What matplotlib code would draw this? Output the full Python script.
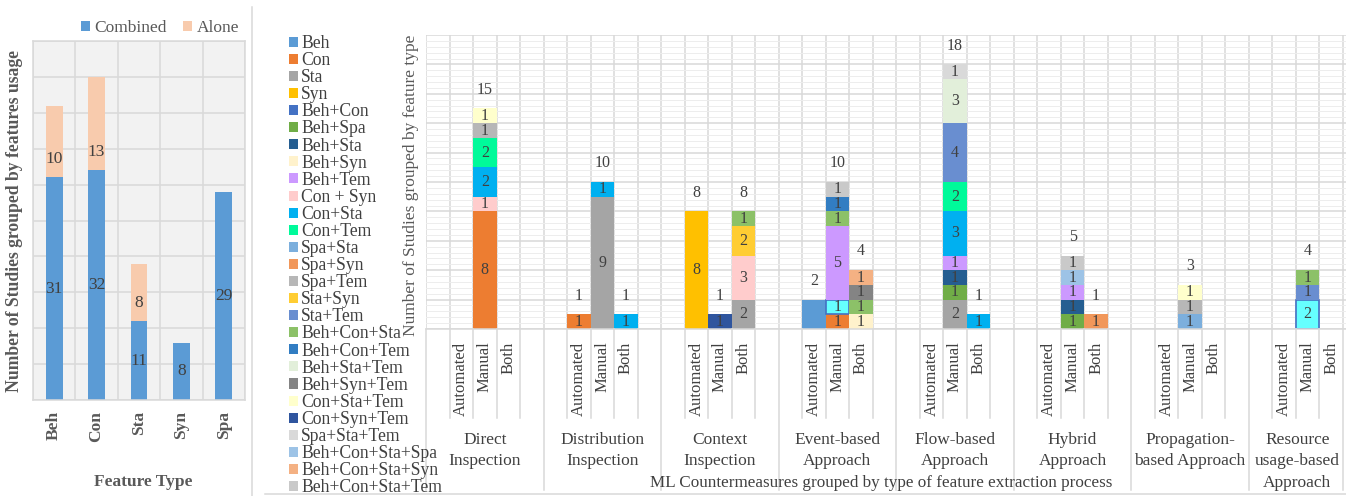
import numpy as np
import matplotlib.pyplot as plt
from matplotlib.patches import Patch
from matplotlib.lines import Line2D
from matplotlib.transforms import blended_transform_factory

plt.rcParams["font.family"] = ["Liberation Serif", "DejaVu Serif"]

# ---- left chart data ----
feature_types = ["Beh", "Con", "Sta", "Syn", "Spa"]
combined = [31, 32, 11, 8, 29]
alone = [10, 13, 8, 0, 0]

# ---- right chart data ----
groups = ["Direct\nInspection", "Distribution\nInspection", "Context\nInspection",
          "Event-based\nApproach", "Flow-based\nApproach", "Hybrid\nApproach",
          "Propagation-\nbased Approach", "Resource\nusage-based\nApproach"]
methods = ["Automated", "Manual", "Both"]

series_names = ["Beh", "Con", "Sta", "Syn", "Beh+Con", "Beh+Spa", "Beh+Sta", "Beh+Syn",
                "Beh+Tem", "Con + Syn", "Con+Sta", "Con+Tem", "Spa+Sta", "Spa+Syn",
                "Spa+Tem", "Sta+Syn", "Sta+Tem", "Beh+Con+Sta", "Beh+Con+Tem",
                "Beh+Sta+Tem", "Beh+Syn+Tem", "Con+Sta+Tem", "Con+Syn+Tem",
                "Spa+Sta+Tem", "Beh+Con+Sta+Spa", "Beh+Con+Sta+Syn", "Beh+Con+Sta+Tem"]
series_colors = ["#5B9BD5", "#ED7D31", "#A5A5A5", "#FFC000", "#4472C4", "#70AD47",
                 "#255E91", "#FFF2CC", "#CC99FF", "#FFCCCC", "#00B0F0", "#00FA9A",
                 "#7CAFDD", "#F1975A", "#B7B7B7", "#FFCD33", "#698ED0", "#8CC168",
                 "#327DC2", "#E2EFDA", "#848484", "#FFFFCC", "#2F559E", "#D9D9D9",
                 "#9DC3E6", "#F4B183", "#C9C9C9"]

# one value per bar: 8 groups x (Automated, Manual, Both)
values = {
    #                  Direct   Distrib  Context  Event    Flow     Hybrid   Propag   Resource
    "Beh":             [0, 0, 0, 0, 0, 0, 0, 0, 0, 2, 0, 0, 0, 0, 0, 0, 0, 0, 0, 0, 0, 0, 0, 0],
    "Con":             [0, 8, 0, 1, 0, 0, 0, 0, 0, 0, 1, 0, 0, 0, 0, 0, 0, 0, 0, 0, 0, 0, 0, 0],
    "Sta":             [0, 0, 0, 0, 9, 0, 0, 0, 2, 0, 0, 0, 0, 2, 0, 0, 0, 0, 0, 0, 0, 0, 0, 0],
    "Syn":             [0, 0, 0, 0, 0, 0, 8, 0, 0, 0, 0, 0, 0, 0, 0, 0, 0, 0, 0, 0, 0, 0, 0, 0],
    "Beh+Con":         [0, 0, 0, 0, 0, 0, 0, 0, 0, 0, 1, 0, 0, 0, 0, 0, 0, 0, 0, 0, 0, 0, 2, 0],
    "Beh+Spa":         [0, 0, 0, 0, 0, 0, 0, 0, 0, 0, 0, 0, 0, 1, 0, 0, 1, 0, 0, 0, 0, 0, 0, 0],
    "Beh+Sta":         [0, 0, 0, 0, 0, 0, 0, 0, 0, 0, 0, 0, 0, 1, 0, 0, 1, 0, 0, 0, 0, 0, 0, 0],
    "Beh+Syn":         [0, 0, 0, 0, 0, 0, 0, 0, 0, 0, 0, 1, 0, 0, 0, 0, 0, 0, 0, 0, 0, 0, 0, 0],
    "Beh+Tem":         [0, 0, 0, 0, 0, 0, 0, 0, 0, 0, 5, 0, 0, 1, 0, 0, 1, 0, 0, 0, 0, 0, 0, 0],
    "Con + Syn":       [0, 1, 0, 0, 0, 0, 0, 0, 3, 0, 0, 0, 0, 0, 0, 0, 0, 0, 0, 0, 0, 0, 0, 0],
    "Con+Sta":         [0, 2, 0, 0, 1, 1, 0, 0, 0, 0, 0, 0, 0, 3, 1, 0, 0, 0, 0, 0, 0, 0, 0, 0],
    "Con+Tem":         [0, 2, 0, 0, 0, 0, 0, 0, 0, 0, 0, 0, 0, 2, 0, 0, 0, 0, 0, 0, 0, 0, 0, 0],
    "Spa+Sta":         [0, 0, 0, 0, 0, 0, 0, 0, 0, 0, 0, 0, 0, 0, 0, 0, 0, 0, 0, 1, 0, 0, 0, 0],
    "Spa+Syn":         [0, 0, 0, 0, 0, 0, 0, 0, 0, 0, 0, 0, 0, 0, 0, 0, 0, 1, 0, 0, 0, 0, 0, 0],
    "Spa+Tem":         [0, 1, 0, 0, 0, 0, 0, 0, 0, 0, 0, 0, 0, 0, 0, 0, 0, 0, 0, 1, 0, 0, 0, 0],
    "Sta+Syn":         [0, 0, 0, 0, 0, 0, 0, 0, 2, 0, 0, 0, 0, 0, 0, 0, 0, 0, 0, 0, 0, 0, 0, 0],
    "Sta+Tem":         [0, 0, 0, 0, 0, 0, 0, 0, 0, 0, 0, 0, 0, 4, 0, 0, 0, 0, 0, 0, 0, 0, 1, 0],
    "Beh+Con+Sta":     [0, 0, 0, 0, 0, 0, 0, 0, 1, 0, 1, 1, 0, 0, 0, 0, 0, 0, 0, 0, 0, 0, 1, 0],
    "Beh+Con+Tem":     [0, 0, 0, 0, 0, 0, 0, 0, 0, 0, 1, 0, 0, 0, 0, 0, 0, 0, 0, 0, 0, 0, 0, 0],
    "Beh+Sta+Tem":     [0, 0, 0, 0, 0, 0, 0, 0, 0, 0, 0, 0, 0, 3, 0, 0, 0, 0, 0, 0, 0, 0, 0, 0],
    "Beh+Syn+Tem":     [0, 0, 0, 0, 0, 0, 0, 0, 0, 0, 0, 1, 0, 0, 0, 0, 0, 0, 0, 0, 0, 0, 0, 0],
    "Con+Sta+Tem":     [0, 1, 0, 0, 0, 0, 0, 0, 0, 0, 0, 0, 0, 0, 0, 0, 0, 0, 0, 1, 0, 0, 0, 0],
    "Con+Syn+Tem":     [0, 0, 0, 0, 0, 0, 0, 1, 0, 0, 0, 0, 0, 0, 0, 0, 0, 0, 0, 0, 0, 0, 0, 0],
    "Spa+Sta+Tem":     [0, 0, 0, 0, 0, 0, 0, 0, 0, 0, 0, 0, 0, 1, 0, 0, 0, 0, 0, 0, 0, 0, 0, 0],
    "Beh+Con+Sta+Spa": [0, 0, 0, 0, 0, 0, 0, 0, 0, 0, 0, 0, 0, 0, 0, 0, 1, 0, 0, 0, 0, 0, 0, 0],
    "Beh+Con+Sta+Syn": [0, 0, 0, 0, 0, 0, 0, 0, 0, 0, 0, 1, 0, 0, 0, 0, 0, 0, 0, 0, 0, 0, 0, 0],
    "Beh+Con+Sta+Tem": [0, 0, 0, 0, 0, 0, 0, 0, 0, 0, 1, 0, 0, 0, 0, 0, 1, 0, 0, 0, 0, 0, 0, 0],
}
# the Beh+Con points were recoloured in the original chart
highlight_series = "Beh+Con"
highlight_fill = "#66FFFF"

W, H = 1346, 496
TEXT = "#404040"
TITLE = "#595959"
GRID = "#D9D9D9"


def fx(px):
    return px / W


def fy(py):
    return 1 - py / H


fig = plt.figure(figsize=(W / 100, H / 100), dpi=100)

# ================= left chart =================
ax1 = fig.add_axes([fx(33), fy(400), 212 / W, 359 / H])
ax1.set_facecolor("#F2F2F2")
x1 = np.arange(len(feature_types))
ax1.bar(x1, combined, width=0.4, color="#5B9BD5", zorder=2)
ax1.bar(x1, alone, width=0.4, bottom=combined, color="#F8CBAD", zorder=2)
for i in range(len(feature_types)):
    ax1.text(x1[i], combined[i] / 2, str(combined[i]), ha="center", va="center",
             fontsize=12.5, color=TEXT, zorder=3)
    if alone[i] > 0:
        ax1.annotate(str(alone[i]), (x1[i], combined[i]), xytext=(0, 13.3),
                     textcoords="offset points", ha="center", va="center",
                     fontsize=12.5, color=TEXT, zorder=3)
ax1.set_xlim(-0.5, len(feature_types) - 0.5)
ax1.set_ylim(0, 50)
ax1.set_yticks(np.arange(0, 51, 5))
ax1.set_xticks(x1, labels=feature_types, rotation=90, fontsize=12.5,
               fontweight="bold", color=TITLE)
ax1.set_xticks(np.arange(-0.5, len(feature_types)), minor=True)
ax1.tick_params(axis="both", which="both", length=0, labelleft=False, pad=8)
ax1.grid(axis="y", which="major", color=GRID, lw=1.1, zorder=0)
ax1.grid(axis="x", which="minor", color=GRID, lw=1.1, zorder=0)
ax1.set_axisbelow(True)
for s in ax1.spines.values():
    s.set_color(GRID)
    s.set_linewidth(1.1)

fig.legend([Patch(facecolor="#5B9BD5"), Patch(facecolor="#F8CBAD")],
           ["Combined", "Alone"], loc="center", bbox_to_anchor=(fx(160), fy(28)),
           ncol=2, frameon=False, fontsize=12.5, handlelength=0.55,
           handleheight=0.55, handletextpad=0.25, columnspacing=0.9,
           labelcolor=TITLE, borderpad=0)
fig.text(fx(15), fy(221), "Number of Studies grouped by features usage",
         rotation=90, ha="center", va="center", fontsize=12.7,
         fontweight="bold", color=TITLE)
fig.text(fx(143), fy(482), "Feature Type", ha="center", va="center",
         fontsize=12.5, fontweight="bold", color=TITLE)

# divider between the two charts
fig.add_artist(Line2D([fx(252), fx(252)], [fy(7), 0], color=GRID, lw=1.1))
fig.add_artist(Line2D([fx(265), 1], [fy(494), fy(494)], color=GRID, lw=1.1))

# ================= right chart =================
ax2 = fig.add_axes([fx(426), fy(329), (W - 426) / W, (329 - 35) / H])
n_slots = 5
positions = np.array([g * n_slots + 1 + k for g in range(len(groups))
                      for k in range(len(methods))])
bottoms = np.zeros(len(positions))
for name, color in zip(series_names, series_colors):
    vals = np.array(values[name], dtype=float)
    if name == highlight_series:
        nz = vals > 0
        ax2.bar(positions[nz], vals[nz], width=1.0, bottom=bottoms[nz],
                color=highlight_fill, edgecolor="#4472C4", linewidth=1.2, zorder=2)
    else:
        ax2.bar(positions, vals, width=1.0, bottom=bottoms, color=color, zorder=2)
    for i, v in enumerate(vals):
        if v <= 0:
            continue
        if name == "Beh" and i == 9:
            continue  # no data label on this segment in the original
        ax2.text(positions[i], bottoms[i] + v / 2, f"{int(v)}", ha="center",
                 va="center", fontsize=11.5, color=TEXT, zorder=3)
    bottoms += vals

for i, total in enumerate(bottoms):
    if total > 0:
        ax2.annotate(f"{int(total)}", (positions[i], total), xytext=(0, 13.5),
                     textcoords="offset points", ha="center", va="center",
                     fontsize=11.5, color=TEXT)

last_edge = len(groups) * n_slots - 1.5
x_right = last_edge + 0.13
ax2.set_xlim(-0.5, x_right)
ax2.set_ylim(0, 20)
ax2.set_yticks(np.arange(0, 21, 2))
ax2.set_yticks(np.arange(0, 20.01, 0.4), minor=True)
ax2.set_xticks(positions, labels=methods * len(groups), rotation=90, fontsize=12,
               color=TEXT)
edges = np.arange(-0.5, len(groups) * n_slots - 1)
ax2.set_xticks(edges, minor=True)
ax2.tick_params(axis="both", which="both", length=0, labelleft=False, pad=9)
ax2.grid(axis="y", which="minor", color="#EDEDED", lw=0.7, zorder=0)
ax2.grid(axis="y", which="major", color=GRID, lw=1.1, zorder=0)
ax2.grid(axis="x", which="minor", color=GRID, lw=1.1, zorder=0)
ax2.set_axisbelow(True)
for side in ["top", "right", "left"]:
    ax2.spines[side].set_visible(False)
ax2.spines["bottom"].set_color(GRID)
ax2.spines["bottom"].set_linewidth(1.1)

# category separators below the axis
trans = blended_transform_factory(ax2.transData, ax2.transAxes)
for e in edges:
    long_line = (e + 0.5) % n_slots == 0 or e == last_edge
    y_end = -0.548 if long_line else -0.303
    ax2.plot([e, e], [0, y_end], transform=trans, color=GRID, lw=1.1, clip_on=False)

for g, label in enumerate(groups):
    left = g * n_slots - 0.5
    right = min(left + n_slots, x_right)  # last group is cut by the chart edge
    ax2.text((left + right) / 2, -0.35, label, transform=trans, ha="center", va="top",
             fontsize=12.5, color=TEXT, linespacing=1.45)

fig.text(fx(881), fy(483), "ML Countermeasures grouped by type of feature extraction process",
         ha="center", va="center", fontsize=12.3, color=TEXT)
fig.text(fx(411), fy(185), "Number of Studies grouped by feature type", rotation=90,
         ha="center", va="center", fontsize=12.5, color=TITLE)

handles = [Patch(facecolor=c) for c in series_colors]
fig.legend(handles, series_names, loc="upper left", bbox_to_anchor=(fx(289), fy(35)),
           frameon=False, fontsize=12.7, handlelength=0.5, handleheight=0.5,
           handletextpad=0.2, labelspacing=0.005, borderpad=0, borderaxespad=0,
           labelcolor=TEXT)

fig.savefig("out.png", dpi=100)
